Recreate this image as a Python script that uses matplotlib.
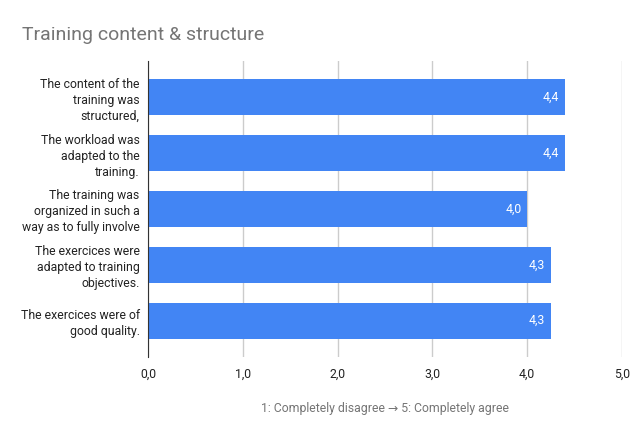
import matplotlib.pyplot as plt
from decimal import Decimal, ROUND_HALF_UP

plt.rcParams['font.family'] = ['Roboto', 'DejaVu Sans']

categories = [
    "The content of the\ntraining was\nstructured,",
    "The workload was\nadapted to the\ntraining.",
    "The training was\norganized in such a\nway as to fully involve",
    "The exercices were\nadapted to training\nobjectives.",
    "The exercices were of\ngood quality.",
]
values = [4.4, 4.4, 4.0, 4.25, 4.25]
xticks = [0, 1, 2, 3, 4, 5]

def fmt(v):
    return str(Decimal(str(v)).quantize(Decimal("0.1"), rounding=ROUND_HALF_UP)).replace(".", ",")

fig = plt.figure(figsize=(6.44, 4.33), dpi=100)
ax = fig.add_axes([148/644, 1 - 357/433, 474/644, 296/433])

ypos = list(range(len(categories)))
bars = ax.barh(ypos, values, height=0.64, color="#4285F4", zorder=3)

for b, v in zip(bars, values):
    ax.text(v - 0.06, b.get_y() + b.get_height()/2, fmt(v), color="white",
            ha="right", va="center", fontsize=8.8, zorder=4)

ax.set_xlim(0, 5)
ax.set_ylim(4.65, -0.65)
ax.set_xticks(xticks)
ax.set_xticklabels([fmt(float(t)) for t in xticks], fontsize=8.8, color="#222222")
ax.set_yticks(ypos)
ax.set_yticklabels(categories, fontsize=8.8, color="#222222", linespacing=1.3)
ax.tick_params(axis="y", length=0, pad=6)
ax.tick_params(axis="x", length=0, pad=8)
ax.grid(axis="x", color="#cccccc", linewidth=1, zorder=0)

for s in ["top", "right", "bottom"]:
    ax.spines[s].set_visible(False)
ax.spines["left"].set_color("#333333")
ax.spines["left"].set_zorder(5)

ax.set_xlabel("1: Completely disagree \u2192 5: Completely agree", fontsize=8.8,
              color="#757575", labelpad=15)

fig.text(22/644, 1 - 35/433, "Training content & structure", fontsize=14,
         color="#757575", ha="left", va="center")

fig.savefig("out.png", dpi=100)
